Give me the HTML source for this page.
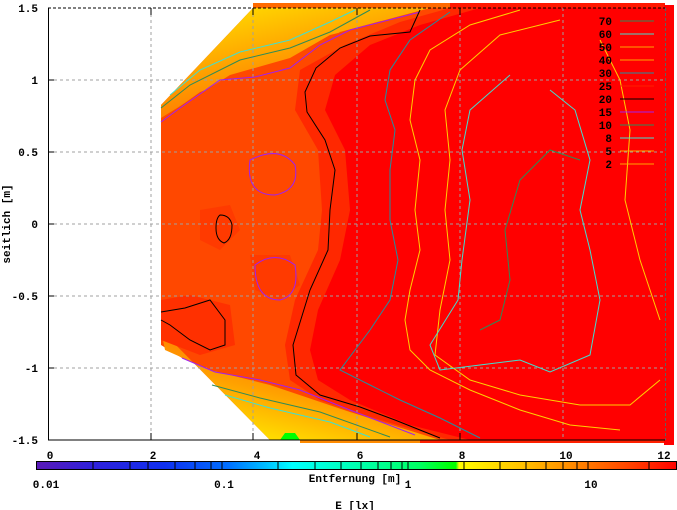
<!DOCTYPE html>
<html><head><meta charset="utf-8"><style>
html,body{margin:0;padding:0;background:#fff;}
svg{display:block;font-family:"Liberation Mono",monospace;font-size:11px;font-weight:bold;}
</style></head><body>
<svg width="677" height="510" viewBox="0 0 677 510" xmlns="http://www.w3.org/2000/svg">
<defs>
<linearGradient id="cb" x1="36" x2="677" y1="0" y2="0" gradientUnits="userSpaceOnUse">
<stop offset="0" stop-color="#5a1ab8"/>
<stop offset="0.08" stop-color="#3320d8"/>
<stop offset="0.2" stop-color="#1030f0"/>
<stop offset="0.3" stop-color="#0070ff"/>
<stop offset="0.36" stop-color="#00c0ff"/>
<stop offset="0.4" stop-color="#00ffff"/>
<stop offset="0.5" stop-color="#00ffb0"/>
<stop offset="0.6" stop-color="#00ff60"/>
<stop offset="0.65" stop-color="#00ff00"/>
<stop offset="0.655" stop-color="#00ff00"/>
<stop offset="0.66" stop-color="#ffff00"/>
<stop offset="0.76" stop-color="#ffc000"/>
<stop offset="0.85" stop-color="#ff8000"/>
<stop offset="0.93" stop-color="#ff4000"/>
<stop offset="1" stop-color="#ff0000"/>
</linearGradient>
<linearGradient id="ty" x1="0" y1="0" x2="0.6" y2="1">
<stop offset="0" stop-color="#ffe800"/><stop offset="0.5" stop-color="#ffa000"/><stop offset="1" stop-color="#ff6000"/>
</linearGradient>
<linearGradient id="by" x1="0" y1="1" x2="0.6" y2="0">
<stop offset="0" stop-color="#ffff00"/><stop offset="0.5" stop-color="#ffa000"/><stop offset="1" stop-color="#ff6000"/>
</linearGradient>
</defs>
<rect x="253" y="3" width="412" height="6" fill="#ff6a00"/>
<rect x="450" y="3" width="215" height="6" fill="#ff1800"/>
<rect x="300" y="439" width="365" height="4" fill="#ff8a00"/>
<rect x="420" y="439" width="245" height="4" fill="#ff2000"/>
<rect x="664" y="5" width="10" height="440" fill="#ff0000"/>
<polygon points="161,105 253,8 665,8 665,440 270,440 161,330" fill="#ff4800"/>
<polygon points="161,105 253,8 440,8 330,35 290,58 230,75 161,118" fill="url(#ty)"/>
<polygon points="161,120 200,92 260,72 300,60 340,32 430,8 665,8 665,440 420,440 350,410 270,382 215,372 182,358 161,345" fill="#ff4800"/>
<polygon points="161,330 270,440 440,440 350,412 270,385 210,370 165,350" fill="url(#by)"/>
<polygon points="280,440 285,433 295,433 300,440" fill="#00ff00"/>
<polygon points="161,300 190,295 230,305 235,345 200,355 161,340" fill="#ff3000"/>
<polygon points="200,210 230,205 240,230 220,250 200,240" fill="#ff3a00"/>
<polygon points="250,255 290,255 300,285 280,300 255,290" fill="#ff3a00"/>
<polygon points="450,8 400,22 345,45 300,70 295,110 318,150 322,210 318,250 295,300 285,345 290,380 320,400 380,420 450,440 665,440 665,8" fill="#ff2800"/>
<polygon points="480,8 420,25 370,45 335,75 325,110 345,150 350,210 340,260 318,310 310,350 318,380 350,400 410,425 470,440 665,440 665,8" fill="#ff0000"/>
<g stroke="#a0a0a0" stroke-dasharray="3,3" stroke-width="1" fill="none">
<line x1="48" y1="80" x2="665" y2="80"/><line x1="48" y1="152" x2="665" y2="152"/>
<line x1="48" y1="224" x2="665" y2="224"/><line x1="48" y1="296" x2="665" y2="296"/>
<line x1="48" y1="368" x2="665" y2="368"/>
<line x1="151" y1="8" x2="151" y2="440"/><line x1="253" y1="8" x2="253" y2="440"/>
<line x1="357" y1="8" x2="357" y2="440"/><line x1="460" y1="8" x2="460" y2="440"/>
<line x1="563" y1="8" x2="563" y2="440"/>
</g>
<g fill="none" stroke-width="1">
<polyline stroke="#40e0d0" points="170,95 200,70 240,52 290,40 330,22 355,10"/>
<polyline stroke="#2e8b57" points="161,108 190,85 240,60 290,48 330,32 370,10"/>
<polyline stroke="#a020f0" points="161,122 180,108 220,80 255,77 290,68 320,45 350,30 420,12"/>
<polyline stroke="#000" points="420,10 410,32 370,36 340,48 316,68 305,92 307,112 325,140 335,170 330,210 328,250 310,290 293,345 296,375 320,395 360,407 395,420 440,438"/>
<polyline stroke="#a020f0" points="182,358 215,372 260,380 300,390 350,410 415,435"/>
<polyline stroke="#2e8b57" points="212,385 260,398 320,412 390,437"/>
<polyline stroke="#40e0d0" points="225,395 270,408 330,422 370,437"/>
<polyline stroke="#000" points="161,312 185,308 210,300 225,320 225,345 210,350 190,340 170,325 161,320"/>
<path stroke="#000" d="M220,215 q10,0 12,10 q0,15 -8,18 q-8,-3 -8,-15 q0,-10 4,-13z"/>
<path stroke="#a020f0" d="M250,160 q30,-15 45,5 q5,25 -20,30 q-30,0 -25,-35z"/>
<path stroke="#a020f0" d="M255,265 q20,-15 40,0 q5,30 -15,35 q-25,0 -25,-35z"/>
<polyline stroke="#2090a0" points="450,12 410,40 390,70 385,100 395,130 390,170 390,220 398,260 390,300 370,330 355,350 340,370 370,385 400,400 440,418 480,438"/>
<polyline stroke="#ffd000" points="520,10 470,25 430,50 415,80 410,120 420,160 415,210 420,250 410,290 405,320 410,350 430,370 470,390 520,410 570,425 620,430"/>
<polyline stroke="#ffd000" points="560,20 500,35 460,70 445,110 450,160 445,210 450,260 440,310 435,355 470,380 520,395 580,405 630,405 660,380"/>
<polyline stroke="#40e0d0" points="510,75 470,110 462,150 470,200 462,260 458,300 430,345 440,370 480,365 520,360 550,372 590,355 600,300 590,250 580,210 590,160 575,110 550,90"/>
<polyline stroke="#2e8b57" points="480,330 500,320 510,280 505,230 520,180 550,150 580,160"/>
<polyline stroke="#ffd000" points="600,40 620,80 630,130 625,200 640,260 660,320"/>
</g>
<g stroke="#000" stroke-width="1" fill="none">
<line x1="48" y1="8" x2="665" y2="8" stroke-dasharray="3,2"/>
<line x1="48" y1="440" x2="665" y2="440"/>
<line x1="48.5" y1="8" x2="48.5" y2="440"/>
<line x1="665.5" y1="8" x2="665.5" y2="440" stroke="#606060" stroke-dasharray="3,2"/>
</g>
<g stroke="#000" stroke-width="1">
<line x1="48" y1="80" x2="54" y2="80"/><line x1="48" y1="152" x2="54" y2="152"/><line x1="48" y1="224" x2="54" y2="224"/><line x1="48" y1="296" x2="54" y2="296"/><line x1="48" y1="368" x2="54" y2="368"/>
<line x1="151" y1="8" x2="151" y2="15"/><line x1="253" y1="8" x2="253" y2="15"/><line x1="357" y1="8" x2="357" y2="15"/><line x1="460" y1="8" x2="460" y2="15"/>
<line x1="151" y1="433" x2="151" y2="440"/><line x1="253" y1="433" x2="253" y2="440"/><line x1="357" y1="433" x2="357" y2="440"/><line x1="460" y1="433" x2="460" y2="440"/>
</g>
<g text-anchor="end">
<text x="38" y="12">1.5</text><text x="38" y="84">1</text><text x="38" y="156">0.5</text>
<text x="38" y="228">0</text><text x="38" y="300">-0.5</text><text x="38" y="372">-1</text><text x="38" y="444">-1.5</text>
</g>
<text transform="translate(10,224) rotate(-90)" text-anchor="middle">seitlich [m]</text>
<g text-anchor="end">
<text x="612" y="25">70</text><text x="612" y="38">60</text><text x="612" y="51">50</text><text x="612" y="64">40</text>
<text x="612" y="77">30</text><text x="612" y="90">25</text><text x="612" y="103">20</text><text x="612" y="116">15</text>
<text x="612" y="129">10</text><text x="612" y="142">8</text><text x="612" y="155">5</text><text x="612" y="168">2</text>
</g>
<g stroke-width="1">
<line x1="620" x2="654" y1="21" y2="21" stroke="#2e8b57"/>
<line x1="620" x2="654" y1="34" y2="34" stroke="#40e0d0"/>
<line x1="620" x2="654" y1="47" y2="47" stroke="#ffa500"/>
<line x1="620" x2="654" y1="60" y2="60" stroke="#ffa500"/>
<line x1="620" x2="654" y1="73" y2="73" stroke="#2090a0"/>
<line x1="620" x2="654" y1="86" y2="86" stroke="#ff2000"/>
<line x1="620" x2="654" y1="99" y2="99" stroke="#000"/>
<line x1="620" x2="654" y1="112" y2="112" stroke="#a020f0"/>
<line x1="620" x2="654" y1="125" y2="125" stroke="#2e8b57"/>
<line x1="620" x2="654" y1="138" y2="138" stroke="#40e0d0"/>
<line x1="620" x2="654" y1="151" y2="151" stroke="#ffa500"/>
<line x1="620" x2="654" y1="164" y2="164" stroke="#ffa500"/>
</g>
<g text-anchor="middle">
<text x="50" y="459">0</text><text x="153" y="459">2</text><text x="257" y="459">4</text><text x="360" y="459">6</text>
<text x="462" y="459">8</text><text x="566" y="459">10</text><text x="664" y="459">12</text>
</g>
<rect x="36.5" y="461.5" width="640" height="8" fill="url(#cb)" stroke="#000"/>
<g stroke="#000" stroke-width="1">
<line x1="93" y1="462" x2="93" y2="469"/><line x1="130" y1="462" x2="130" y2="469"/><line x1="148" y1="462" x2="148" y2="469"/><line x1="175" y1="462" x2="175" y2="469"/><line x1="195" y1="462" x2="195" y2="469"/><line x1="211" y1="462" x2="211" y2="469"/><line x1="222" y1="462" x2="222" y2="469"/>
<line x1="278" y1="462" x2="278" y2="469"/><line x1="315" y1="462" x2="315" y2="469"/><line x1="341" y1="462" x2="341" y2="469"/><line x1="361" y1="462" x2="361" y2="469"/><line x1="378" y1="462" x2="378" y2="469"/><line x1="391" y1="462" x2="391" y2="469"/><line x1="402" y1="462" x2="402" y2="469"/><line x1="408" y1="462" x2="408" y2="469"/>
<line x1="464" y1="462" x2="464" y2="469"/><line x1="500" y1="462" x2="500" y2="469"/><line x1="526" y1="462" x2="526" y2="469"/><line x1="546" y1="462" x2="546" y2="469"/><line x1="563" y1="462" x2="563" y2="469"/><line x1="577" y1="462" x2="577" y2="469"/><line x1="588" y1="462" x2="588" y2="469"/><line x1="649" y1="462" x2="649" y2="469"/>
</g>
<text x="355" y="482" text-anchor="middle">Entfernung [m]</text>
<g text-anchor="middle">
<text x="46" y="488">0.01</text><text x="224" y="488">0.1</text><text x="408" y="488">1</text><text x="591" y="488">10</text>
</g>
<text x="355" y="509" text-anchor="middle">E [lx]</text>
</svg>
</body></html>
